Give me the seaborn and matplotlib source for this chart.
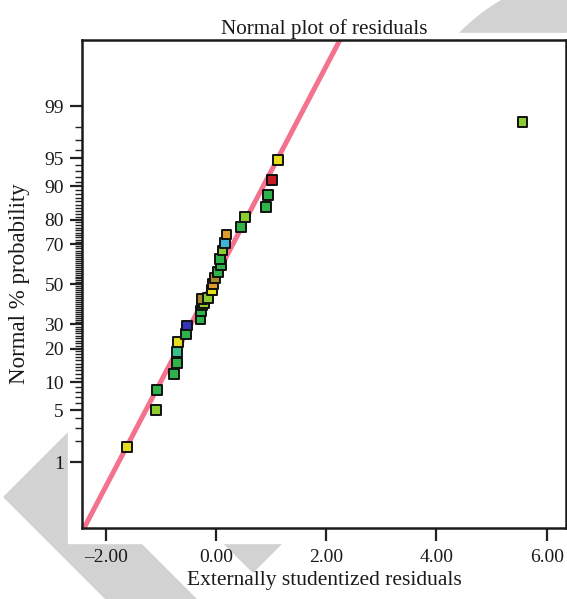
from statistics import NormalDist

import matplotlib
matplotlib.use("Agg")
import matplotlib.pyplot as plt
import matplotlib.patches as mpatches
import numpy as np
import pandas as pd
import seaborn as sns

# Residuals (x) and their normal % probability (y)
residuals = [-1.62, -1.09, -1.07, -0.76, -0.71, -0.70, -0.69, -0.55, -0.53, -0.28,
             -0.27, -0.25, -0.22, -0.26, -0.14, -0.07, -0.05, -0.02, 0.04, 0.09,
             0.07, 0.12, 0.17, 0.19, 0.46, 0.52, 0.91, 0.94, 1.01, 1.13, 5.56]
probability = [1.66, 5.05, 8.4, 12.1, 15.2, 18.7, 22.4, 25.8, 29.5, 32.6,
               36.3, 39.0, 40.1, 42.5, 42.9, 46.8, 50.0, 53.2, 56.4, 59.9,
               62.9, 67.0, 70.5, 74.2, 77.3, 81.1, 84.4, 87.9, 91.3, 94.8, 98.3]
point_color = ["yellow", "lime", "green", "green", "green", "teal", "yellow", "green",
               "blue", "green", "green", "green", "lime", "olive", "lime", "yellow",
               "orange", "olive", "green", "green", "green", "lime", "cyan", "orange",
               "green", "lime", "green", "green", "red", "yellow", "lime"]

# Reference line (normal fit): centre and spread of residuals
line_mean = -0.074
line_sd = 0.728

prob_ticks = [1, 5, 10, 20, 30, 50, 70, 80, 90, 95, 99]
x_ticks = [-2, 0, 2, 4, 6]

palette = {
    "yellow": "#e6dc1e", "lime": "#8ccc2c", "green": "#2fb24a", "teal": "#38bf8a",
    "blue": "#3434b8", "olive": "#a88a28", "orange": "#e09a2a", "cyan": "#3eb4d6",
    "red": "#c41e24",
}

nd = NormalDist()
df = pd.DataFrame({
    "residual": residuals,
    "z": [nd.inv_cdf(p / 100) for p in probability],
    "color": point_color,
})

sns.set_style("ticks")
plt.rcParams["font.family"] = ["Liberation Serif", "DejaVu Serif"]

W, H = 567, 599
fig = plt.figure(figsize=(W / 100, H / 100), dpi=100)

# Grey page decorations behind the chart
grey = "#d2d2d2"
fig.patches.append(mpatches.Ellipse((600 / W, 1 - 170 / H), 2 * 196 / W, 2 * 196 / H,
                                    transform=fig.transFigure, color=grey, zorder=-3))
chevron = [(4, 497), (75, 426), (200, 426), (200, 543), (140, 543), (207, 610), (117, 610)]
fig.patches.append(mpatches.Polygon([(x / W, 1 - y / H) for x, y in chevron],
                                    transform=fig.transFigure, color=grey, zorder=-3))
tri = [(200, 520), (285, 520), (285, 540), (253, 572)]
fig.patches.append(mpatches.Polygon([(x / W, 1 - y / H) for x, y in tri],
                                    transform=fig.transFigure, color=grey, zorder=-3))
fig.patches.append(mpatches.Rectangle((68 / W, 1 - 543 / H), 1.0, (543 - 33) / H,
                                      transform=fig.transFigure, color="white", zorder=-2))

ax = fig.add_axes([82 / W, 1 - 528 / H, (566 - 82) / W, (528 - 40) / H])
ax.set_xlim(-2.43, 6.35)
ax.set_ylim(-3.185, 3.19)

# Fitted normal line across the whole x range
xl = np.array(ax.get_xlim())
sns.lineplot(x=xl, y=(xl - line_mean) / line_sd, color="#f36a88", lw=3.6,
             alpha=0.95, ax=ax, zorder=2)

sns.scatterplot(data=df, x="residual", y="z", hue="color", palette=palette,
                marker="s", s=50, edgecolor="#111111", linewidth=1.4,
                legend=False, ax=ax, zorder=3)

# Probability axis ticks
ax.set_yticks([nd.inv_cdf(p / 100) for p in prob_ticks])
ax.set_yticklabels([str(p) for p in prob_ticks])
minor = [p for p in range(1, 100) if p not in prob_ticks]
ax.set_yticks([nd.inv_cdf(p / 100) for p in minor], minor=True)
ax.set_xticks(x_ticks)
ax.set_xticklabels([f"{v:.2f}".replace("-", "\u2013") for v in x_ticks])

ax.tick_params(axis="both", which="major", length=9, width=1.6, labelsize=14,
               pad=4, color="#222222", labelcolor="#1a1a1a")
ax.tick_params(axis="x", which="major", pad=6)
ax.tick_params(axis="y", which="minor", length=5, width=1.0, color="#222222")
for side in ["left", "bottom", "top", "right"]:
    ax.spines[side].set_linewidth(1.8)
    ax.spines[side].set_color("#1a1a1a")

ax.set_title("Normal plot of residuals", fontsize=15.2, pad=4, color="#1a1a1a")
ax.set_xlabel("Externally studentized residuals", fontsize=15.5, labelpad=4, color="#1a1a1a")
ax.set_ylabel("Normal % probability", fontsize=16.5, labelpad=10, color="#1a1a1a")

plt.savefig("out.png", dpi=100)
plt.close()
